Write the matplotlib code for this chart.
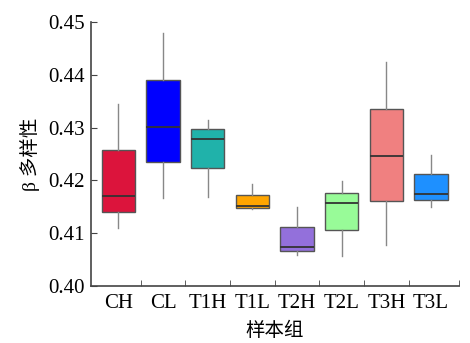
import matplotlib
matplotlib.use("Agg")
import matplotlib.pyplot as plt

# box statistics
groups = ["CH", "CL", "T1H", "T1L", "T2H", "T2L", "T3H", "T3L"]
whis_lo = [0.4110, 0.4166, 0.4168, 0.4145, 0.4059, 0.4057, 0.4078, 0.4150]
q1 = [0.4141, 0.4234, 0.4223, 0.4148, 0.4067, 0.4107, 0.4161, 0.4162]
med = [0.4171, 0.4302, 0.4278, 0.4152, 0.4074, 0.4157, 0.4246, 0.4174]
q3 = [0.4258, 0.4390, 0.4297, 0.4172, 0.4112, 0.4177, 0.4335, 0.4212]
whis_hi = [0.4345, 0.4479, 0.4314, 0.4193, 0.4149, 0.4199, 0.4424, 0.4248]
colors = ["#DC143C", "#0000FF", "#20B2AA", "#FFA500",
          "#9370DB", "#98FB98", "#F08080", "#1E90FF"]

stats = []
for i, g in enumerate(groups):
    stats.append(dict(label=g, whislo=whis_lo[i], q1=q1[i], med=med[i],
                      q3=q3[i], whishi=whis_hi[i], fliers=[]))

serif_cjk = ["Liberation Serif", "Noto Sans CJK SC"]

fig = plt.figure(figsize=(4.7, 3.43), dpi=100)
ax = fig.add_axes([0.193, 0.166, 0.783, 0.770])

x = list(range(len(groups)))
bp = ax.bxp(stats, positions=x, widths=0.75, patch_artist=True, showcaps=False,
            boxprops=dict(edgecolor="#555555", linewidth=1.0),
            medianprops=dict(color="#333333", linewidth=1.3),
            whiskerprops=dict(color="#888888", linewidth=1.0))
for patch, c in zip(bp["boxes"], colors):
    patch.set_facecolor(c)

ax.set_xlim(-0.62, 7.62)
ax.set_ylim(0.40, 0.45)
ax.set_yticks([0.40, 0.41, 0.42, 0.43, 0.44, 0.45])
ax.set_yticklabels(["0.40", "0.41", "0.42", "0.43", "0.44", "0.45"])
ax.set_xticks(x)
ax.set_xticklabels(groups)
ax.tick_params(axis="x", which="major", length=0, pad=6)
ax.set_xticks([0.5, 1.5, 2.5, 3.5, 4.5, 5.5, 6.5, 7.62], minor=True)
ax.tick_params(axis="x", which="minor", direction="in", length=4, color="#444444")
ax.tick_params(axis="y", direction="in", length=4, color="#444444", pad=4)
for lab in ax.get_xticklabels() + ax.get_yticklabels():
    lab.set_family("Liberation Serif")
    lab.set_fontsize(15)

for s in ["top", "right"]:
    ax.spines[s].set_visible(False)
for s in ["left", "bottom"]:
    ax.spines[s].set_color("#444444")
    ax.spines[s].set_linewidth(1.2)

ax.set_ylabel("β 多样性", family=serif_cjk, fontsize=14, labelpad=6)
ax.set_xlabel("样本组", family=serif_cjk, fontsize=14, labelpad=6)

fig.savefig("out.png", dpi=100)
